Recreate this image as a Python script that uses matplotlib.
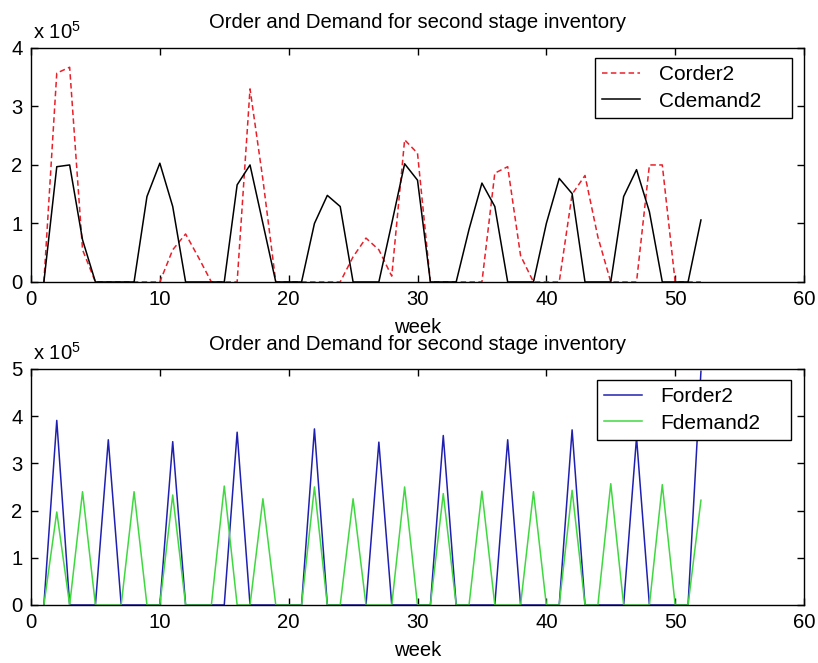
import matplotlib
matplotlib.use('Agg')
import matplotlib.pyplot as plt

plt.rcParams['font.family'] = ['Liberation Sans', 'DejaVu Sans']
plt.rcParams['mathtext.fontset'] = 'custom'
plt.rcParams['mathtext.rm'] = 'Liberation Sans'

weeks = list(range(1, 53))

# values in units of 1e5
corder2 = [0, 3.57, 3.67, 0.55, 0, 0, 0, 0, 0, 0,
           0.55, 0.82, 0.42, 0, 0, 0, 3.3, 1.75, 0, 0,
           0, 0, 0, 0, 0.43, 0.75, 0.55, 0.1, 2.43, 2.2,
           0, 0, 0, 0, 0, 1.86, 1.97, 0.45, 0, 0,
           0, 1.5, 1.82, 0.77, 0, 0, 0, 2.0, 2.0, 0,
           0, 0]
cdemand2 = [0, 1.97, 2.0, 0.72, 0, 0, 0, 0, 1.46, 2.03,
            1.29, 0, 0, 0, 0, 1.66, 2.0, 1.0, 0, 0,
            0, 1.0, 1.48, 1.29, 0, 0, 0, 1.0, 2.02, 1.74,
            0, 0, 0, 0.9, 1.69, 1.29, 0, 0, 0, 1.0,
            1.77, 1.51, 0, 0, 0, 1.46, 1.92, 1.2, 0, 0,
            0, 1.06]

forder2 = [0, 3.91, 0, 0, 0, 3.50, 0, 0, 0, 0,
           3.46, 0, 0, 0, 0, 3.66, 0, 0, 0, 0,
           0, 3.73, 0, 0, 0, 0, 3.45, 0, 0, 0,
           0, 3.59, 0, 0, 0, 0, 3.50, 0, 0, 0,
           0, 3.71, 0, 0, 0, 0, 3.55, 0, 0, 0,
           0, 4.95]
fdemand2 = [0, 1.97, 0, 2.40, 0, 0, 0, 2.40, 0, 0,
            2.33, 0, 0, 0, 2.52, 0, 0, 2.25, 0, 0,
            0, 2.50, 0, 0, 2.25, 0, 0, 0, 2.50, 0,
            0, 2.36, 0, 0, 2.41, 0, 0, 0, 2.40, 0,
            0, 2.43, 0, 0, 2.57, 0, 0, 0, 2.55, 0,
            0, 2.22]

title = 'Order and Demand for second stage inventory'
FS = 14.6

fig = plt.figure(figsize=(8.18, 6.63), dpi=100)


def style(ax, ymax):
    ax.set_xlim(0, 60)
    ax.set_ylim(0, ymax)
    ax.set_xticks([0, 10, 20, 30, 40, 50, 60])
    ax.set_yticks(range(0, ymax + 1))
    ax.tick_params(direction='in', top=True, right=True, length=5,
                   width=1, labelsize=FS, pad=6)
    for s in ax.spines.values():
        s.set_linewidth(1)
    ax.set_title(title, fontsize=FS, pad=14)
    ax.set_xlabel('week', fontsize=FS, labelpad=6)
    ax.text(0.002, 1.02, r'x 10$^{5}$', transform=ax.transAxes,
            fontsize=FS, ha='left', va='bottom')


def legend(ax, box):
    # box = (left, top, width) in axes fraction, like the matlab legend frame
    leg = ax.legend(loc='upper left', bbox_to_anchor=(box[0], box[1], box[2], 0),
                    mode='expand', fontsize=15, fancybox=False,
                    framealpha=1, edgecolor='black', borderaxespad=0,
                    handlelength=1.8, handletextpad=0.9,
                    labelspacing=0.35, borderpad=0.35)
    leg.get_frame().set_linewidth(1)


# top: C
ax = fig.add_axes([0.0379, 0.5747, 0.945, 0.353])
ax.plot(weeks, corder2, color='#e8202a', lw=1.1, ls='--', dashes=(3.6, 2.2),
        label='Corder2')
ax.plot(weeks, cdemand2, color='black', lw=1.1, label='Cdemand2')
style(ax, 4)
legend(ax, (0.7296, 0.957, 0.255))

# bottom: F
ax = fig.add_axes([0.0379, 0.0875, 0.945, 0.356])
ax.plot(weeks, forder2, color='#2020b0', lw=1.1, label='Forder2')
ax.plot(weeks, fdemand2, color='#40d840', lw=1.1, label='Fdemand2')
style(ax, 5)
legend(ax, (0.732, 0.953, 0.251))

fig.savefig('out.png', dpi=100)
